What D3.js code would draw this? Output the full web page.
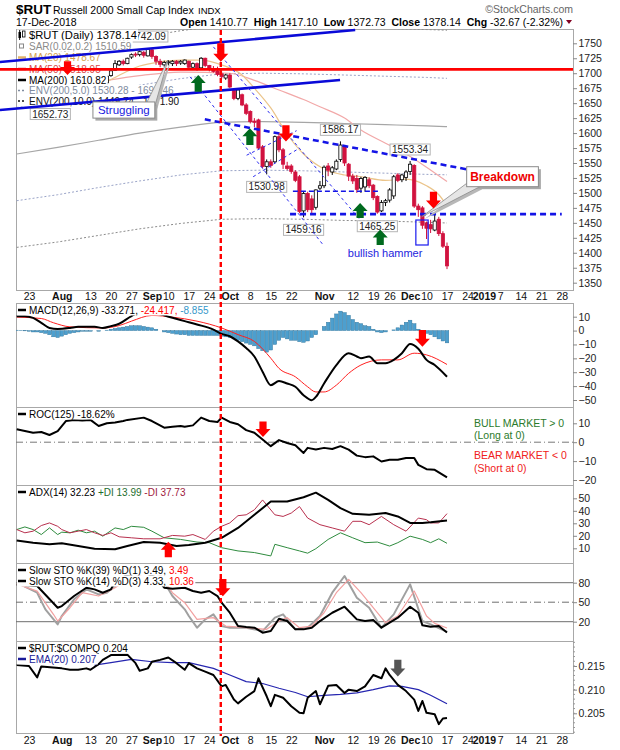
<!DOCTYPE html>
<html>
<head>
<meta charset="utf-8">
<script src="https://cdn.jsdelivr.net/npm/d3@7"></script>
<style>
  body { margin: 0; background: #fff; }
  svg { display: block; }
  text { font-family: "Liberation Sans", Arial, sans-serif; }
</style>
</head>
<body>
<svg id="chart" width="620" height="750"></svg>
<script>
// ---------- data ----------
const holidays = ["2018-09-03", "2018-11-22", "2018-12-05", "2018-12-25", "2019-01-01"];
const firstDay = "2018-07-18";
const lastDay = "2019-02-02";

const tickDates = ["2018-07-23","2018-08-02","2018-08-13","2018-08-20","2018-08-27","2018-09-04","2018-09-10","2018-09-17","2018-09-24","2018-10-01","2018-10-08","2018-10-15","2018-10-22","2018-11-01","2018-11-12","2018-11-19","2018-11-26","2018-12-03","2018-12-10","2018-12-17","2018-12-24","2018-12-31","2019-01-07","2019-01-14","2019-01-21","2019-01-28"];
const tickLabels = ["23","Aug","13","20","27","Sep","10","17","24","Oct","8","15","22","Nov","12","19","26","Dec","10","17","24","2019","7","14","21","28"];

// candles from 2018-08-17 to 2018-12-17
const candleFirstDate = "2018-08-17";
const candleOpen = [1684,1696,1705,1714,1720,1716,1727,1732,1731,1735,1729,
  1739,1728,1720,1714,1718,1716,1720,1717,1716,
  1720,1710,1716,1709,1725,1713,1708,1704,1699,1692,
  1697,1672,1658,1664,1647,1636,1620,1622,1577,1544,
  1552,1552,1594,1572,1545,1545,1535,1527,1470,1499,
  1490,1476,1508,1512,1545,1535,1540,1556,1578,1548,
  1528,1524,1508,1510,1522,1513,1494,1470,1484,1488,
  1495,1530,1522,1526,1536,1546,1478,1475,1450,1447,
  1438,1456,1432,1410.77];
const candleHigh = [1696,1705,1722,1722,1723,1726,1733,1735,1738,1737,1742.09,
  1741,1730,1724,1721,1722,1722,1722,1722,1723,
  1721,1718,1718,1727,1726,1714,1712,1711,1703,1699,
  1700,1674,1675,1666,1650,1638,1625,1624,1580,1556,
  1556,1596,1598,1575,1552,1548,1538,1530,1503,1502,
  1496,1506,1520,1546,1550,1545,1556,1586.17,1580,1550,
  1532,1530,1527,1528,1526,1515,1496,1488,1490,1508,
  1530,1533,1532,1538,1553.34,1548,1482,1478,1452,1455,
  1466,1460,1436,1417.10];
const candleLow = [1681,1694,1704,1712,1713,1715,1724,1727,1728,1726,1728,
  1724,1714,1710,1711,1713,1712,1712,1714,1714,
  1708,1709,1704,1708,1710,1703,1701,1695,1690,1689,
  1675,1655,1655,1645,1630,1616,1610,1573,1541,1530.98,
  1542,1550,1568,1540,1538,1532,1518,1466,1459.16,1468,
  1465,1472,1505,1508,1528,1530,1538,1552,1545,1520,
  1515,1500,1500,1502,1508,1488,1465.25,1468,1478,1484,
  1490,1518,1518,1520,1530,1475,1460,1440,1423,1433,
  1436,1428,1408,1372.73];
const candleClose = [1695,1704,1716,1720,1716,1725,1731,1731,1736,1730,1740,
  1728,1720,1715,1718,1719,1720,1716,1720,1722,
  1710,1716,1707,1725,1713,1706,1703,1698,1694,1697,
  1677,1658,1672,1647,1633,1619,1618,1575,1544,1552,
  1546,1594,1572,1548,1541,1536,1521,1469,1499,1472,
  1472,1505,1512,1543,1538,1542,1553,1580,1550,1528,
  1520,1506,1524,1526,1512,1492,1468,1484,1487,1505,
  1527,1521,1530,1535,1548,1478,1472,1446,1441,1440,
  1453,1432,1411,1378.14];

// overlays, as [trading-day number, value]
const ma20 = [[22,1686],[26,1700],[30,1712],[35,1719],[40,1722],[45,1722],[50,1714],[55,1697],[58,1675],[62,1642],[66,1598],[70,1565],[75,1540],[80,1530],[84,1527],[90,1521],[95,1523],[100,1512],[103,1497],[105,1478.67]];
const ma50 = [[22,1688],[30,1696],[40,1702],[52,1700],[58,1688],[64,1672],[70,1656],[74,1644],[80,1625],[84,1605],[90,1583],[95,1565],[100,1543],[105,1518.95]];
const ma200 = [[0,1565],[10,1576],[20,1588],[30,1600],[40,1610],[50,1618],[60,1619],[70,1618],[80,1616],[90,1614],[100,1612],[105,1610.82]];
const env5Upper = [[0,1643],[10,1655],[20,1667],[30,1680],[40,1691],[50,1699],[60,1700],[70,1699],[80,1697],[90,1695],[100,1693],[105,1691.46]];
const env5Lower = [[0,1487],[10,1497],[20,1509],[30,1520],[40,1530],[50,1537],[60,1538],[70,1537],[80,1535],[90,1533],[100,1531],[105,1530.28]];
const env10Upper = [[0,1722],[10,1734],[20,1747],[30,1760],[40,1771],[50,1780],[60,1781],[70,1780],[80,1778],[90,1775],[100,1773],[105,1771.90]];
const env10Lower = [[0,1409],[10,1418],[20,1429],[30,1440],[40,1449],[50,1456],[60,1457],[70,1456],[80,1454],[90,1453],[100,1451],[105,1449.74]];

// MACD(12,26,9)
const macdLine = [[0,10.4],[2,10.4],[4,9.2],[6,5.6],[8,1.9],[10,1.2],[13,1.9],[15,2.7],[19,2.7],[21,1.9],[23,3.2],[25,4.9],[28,10.4],[31,14],[35,11.7],[38,9.2],[41,6.8],[44,4.4],[48,0.7],[50,-2.4],[52,-4.1],[54,-7.8],[56,-12.6],[58,-18.7],[60,-29.6],[62,-39.3],[64,-36.4],[66,-38.1],[68,-40.5],[70,-46.6],[72,-50.2],[73,-47.8],[75,-38.1],[78,-24.8],[81,-16.3],[83,-18.7],[84,-19.9],[86,-18.7],[88,-23.5],[90,-23.5],[92,-21.1],[94,-16.3],[96,-9.7],[98,-13.1],[100,-21.1],[102,-24.8],[105,-33.271]];
const macdSignal = [[0,9.7],[6,8.7],[9,5.6],[13,2.7],[21,1.9],[25,3.6],[28,6.8],[33,10.9],[38,9.7],[44,6.8],[50,1.9],[54,-2.9],[58,-7.8],[62,-19.9],[64,-27.2],[68,-33.3],[71,-40.5],[73,-44.2],[75,-44.2],[78,-39.3],[81,-30.8],[84,-24.8],[89,-21.1],[93,-21.1],[97,-16.3],[100,-17.5],[105,-24.417]];
const macdHist = [0.3,0.2,-0.2,-0.5, -1,-1,-1.5,-2,
  -3,-4.5,-5,-4,-3, -2,-1.5,-1,-0.5,-0.5, -0.5,0,-0.5,0,0.3, 1,1.5,2,2.5,3,
  3.5,3.5,3.5,3,2.5, 2,1,0,-1,-1.5, -2,-2.5,-3,-3,-3.5, -3.5,-3.5,-3.5,-3.5,-3.5,
  -3.5,-3.5,-4,-4.5,-5, -6,-7,-8,-9,-10, -11,-13,-14.5,-15.5,-14, -10,-7,-5,-6,-7,
  -7,-8,-8.5,-7.5,-5, -3,0,3,6,9, 12,14,13,11,8, 6,5,3.5,3,1,
  -1,-1.5,-1,0,0.5, 2,4,6,7.5,5, 1,-1.5,-2,-3,-4.5, -6,-7.5,-8.855];

// ROC(125)
const roc = [[0,6.8],[2,5.9],[4,5],[6,5.4],[8,3.8],[10,5.9],[12,11.2],[14,11.8],[16,11.5],[18,11.8],[20,8.6],[22,10],[24,10.4],[26,11.2],[27,11.8],[31,13],[33,11.2],[36,7.7],[38,8.2],[40,8.6],[41,8.2],[43,8.9],[45,13],[47,11.2],[49,10.7],[50,13],[52,10.7],[54,9.5],[56,6.4],[58,5],[60,1.4],[62,-2.1],[64,1.1],[66,-0.4],[68,-1.6],[70,-5.7],[71,-3],[73,-3.9],[75,-3],[77,-3.6],[79,-2.1],[81,-3.9],[83,-7.1],[85,-7.9],[87,-7.5],[89,-10.2],[91,-9.3],[93,-9.3],[95,-8.4],[97,-8.4],[98,-12],[100,-14.3],[102,-14.6],[105,-18.62]];

// ADX(14)
const adx = [[0,16.3],[4,14.5],[8,13.2],[11,14],[15,11.8],[19,9.7],[24,9.2],[27,11.8],[31,15],[35,14.5],[39,11.8],[42,12.6],[46,14.5],[50,18.4],[54,26.3],[58,36.8],[62,47.4],[66,47.4],[70,50.8],[73,54.5],[76,48.7],[79,42.1],[82,37.6],[86,36.8],[90,38.2],[93,35.5],[96,30.3],[99,30.3],[101,30.8],[105,32.23]];
const plusDI = [[0,25],[2,27.1],[4,25],[6,21],[8,26.3],[10,21],[11,22.9],[13,22.4],[15,24.5],[17,22.4],[19,23.7],[21,19.7],[24,26.3],[26,25],[28,27.6],[31,26.8],[33,23.7],[36,18.4],[40,17.1],[44,15],[47,14.5],[50,10.5],[54,7.9],[58,6.6],[62,3.9],[63,13.2],[66,10.5],[69,7.9],[71,6.1],[73,9.7],[76,17.1],[79,22.4],[82,18.4],[85,14.5],[88,15],[91,11.8],[93,14.5],[96,19.7],[99,17.1],[101,14.5],[103,17.6],[105,13.99]];
const minusDI = [[0,25],[2,22.4],[4,23.7],[6,28.2],[8,30.3],[10,27.6],[11,25],[13,22.4],[15,23.7],[17,25],[19,22.4],[21,20.3],[23,22.4],[25,19.2],[28,18.4],[31,17.6],[35,17.6],[38,20.3],[41,19.7],[43,21],[46,17.1],[48,23.7],[50,27.6],[52,30.3],[54,36.1],[56,36.8],[58,40.8],[60,48.7],[63,36.8],[65,35.5],[67,38.2],[69,43.4],[71,34.2],[74,28.9],[77,26.3],[80,23.7],[82,31.6],[84,31.6],[86,28.9],[89,35.5],[92,28.9],[95,23.7],[98,34.2],[100,32.9],[101,30.3],[103,30.3],[105,37.73]];

// Slow stochastics
const sto39 = [[0,77.4],[5,74.9],[10,41.5],[11,44],[14,59.5],[17,72.3],[19,69.7],[21,64.6],[23,69.7],[24,82],[27,92],[31,96],[34,88],[36,72.3],[38,70.8],[41,72.3],[43,67.2],[45,64.6],[47,67.2],[49,59.5],[50,49.2],[52,33.8],[54,13.3],[56,11.8],[58,10.8],[60,3.1],[62,5.6],[64,24.6],[66,21],[68,8.2],[70,8.2],[72,10.8],[74,21],[77,33.8],[80,43.1],[83,23.6],[85,21],[87,22.6],[89,10.8],[91,18.5],[93,26.2],[96,43.1],[98,33.8],[99,14.4],[101,12.3],[103,13.3],[105,3.49]];
const sto14K = [[0,80],[5,64.6],[7,39],[10,15.9],[11,28.7],[14,54.4],[17,69.7],[20,62],[22,64.6],[24,74.9],[28,95],[32,98],[35,92],[38,59.5],[41,39],[42,28.7],[44,10.8],[46,23.6],[48,31.3],[50,13.3],[52,10.8],[56,10.8],[60,5.6],[63,26.2],[65,31.3],[68,8.2],[71,10.8],[74,28.7],[77,64.6],[80,90.3],[83,56.9],[86,41.5],[89,10.8],[92,31.3],[96,77.4],[99,21],[101,15.9],[105,4.33]];
const sto14D = [[0,78],[5,67],[9,31],[10,21],[13,41.5],[16,64.6],[20,59.5],[24,72.3],[28,88],[32,95],[35,92],[38,64.6],[41,49.2],[44,23.6],[48,26.2],[51,13.3],[56,10.8],[61,8.2],[64,21],[66,26.2],[69,10.8],[72,13.3],[75,33.8],[78,64.6],[81,85.1],[84,64.6],[87,41.5],[90,18.5],[93,28.7],[97,67.2],[100,28.7],[102,17.4],[105,10.36]];

// $RUT:$COMPQ ratio
const ratio = [[0,0.2152],[3,0.2150],[5,0.2126],[6,0.2149],[11,0.2145],[13,0.2142],[15,0.2142],[17,0.2145],[18,0.2142],[20,0.2154],[21,0.2163],[23,0.2173],[27,0.2174],[29,0.2156],[30,0.2140],[32,0.2145],[33,0.2159],[35,0.2163],[37,0.2168],[39,0.2156],[41,0.2142],[42,0.2156],[44,0.2145],[46,0.2138],[48,0.2131],[50,0.2107],[51,0.2110],[53,0.2079],[54,0.2071],[56,0.2085],[58,0.2097],[59,0.2124],[61,0.2086],[62,0.2065],[63,0.2089],[65,0.2083],[67,0.2065],[69,0.2051],[70,0.2050],[71,0.2083],[73,0.2097],[74,0.2069],[76,0.2108],[78,0.2110],[80,0.2093],[81,0.2100],[83,0.2097],[85,0.2107],[87,0.2131],[89,0.2124],[90,0.2145],[91,0.2131],[93,0.2110],[95,0.2097],[97,0.2079],[98,0.2055],[99,0.2076],[100,0.2051],[102,0.2048],[103,0.2027],[104,0.2039],[105,0.2040]];
const ratioEma = [[19,0.2152],[23,0.2157],[28,0.2164],[33,0.2159],[38,0.2157],[42,0.2157],[48,0.2145],[52,0.2131],[56,0.2117],[60,0.2113],[64,0.2103],[68,0.2094],[71,0.2085],[75,0.2088],[79,0.2090],[83,0.2093],[87,0.2100],[91,0.2108],[94,0.2107],[98,0.2100],[101,0.2088],[105,0.2070]];

// annotations drawn on the chart, in [day number, value]
const blueTrendLines = [[[-4.08,1718.8],[82.6,1772.2]], [[-4.08,1638.6],[78.9,1688.7]]];
const redLevel = 1706.5;
const channelLines = [[[42.3,1694],[74.8,1413]], [[48,1744],[83.8,1455]], [[56.1,1563],[68.3,1604]], [[57.7,1527],[68.3,1572]]];
const thickDashed = [[[45.9,1623],[109.8,1539.5]], [[66.7,1464.5],[133,1464.5]]];
const thinDashed = [[[67.4,1503],[88.7,1503]]];
const markerDay = 49.8;
const priceArrows = [
  {i:12.4, tail:1720, tip:1697, color:"#ff0000"},
  {i:49.8, tail:1750, tip:1719, color:"#ff0000"},
  {i:65.7, tail:1613, tip:1586, color:"#ff0000"},
  {i:101.7, tail:1502, tip:1474, color:"#ff0000"},
  {i:44.3, tail:1669, tip:1697, color:"#006a1e"},
  {i:56.9, tail:1580, tip:1608, color:"#006a1e"},
  {i:83.8, tail:1458, tip:1483, color:"#006a1e"},
  {i:88.7, tail:1413, tip:1439, color:"#006a1e"}
];
const priceLabels = [
  {text:"1742.09", i:32, p:1742.09, side:"above"},
  {text:"1652.73", i:8.2, p:1652.73, side:"below"},
  {text:"1530.98", i:61, p:1530.98, side:"below"},
  {text:"1459.16", i:70, p:1459.16, side:"below"},
  {text:"1586.17", i:79, p:1586.17, side:"above"},
  {text:"1553.34", i:96, p:1553.34, side:"above"},
  {text:"1465.25", i:88, p:1465.25, side:"below"}
];

// ---------- layout ----------
const svg = d3.select("#chart");
const L = 16, R = 573;
const parse = d3.timeParse("%Y-%m-%d"), fmt = d3.timeFormat("%Y-%m-%d");
const days = d3.timeDay.range(parse(firstDay), parse(lastDay))
  .filter(d => d.getDay() !== 0 && d.getDay() !== 6 && !holidays.includes(fmt(d)));
const dayIdx = s => days.findIndex(d => fmt(d) === s);

const x = d3.scaleLinear().domain([0, 105]).range([16.7, 447]);

const panels = {
  price: {top: 29, bottom: 290, y: d3.scaleLinear().domain([1350, 1750]).range([282.7, 43.3]), ticks: d3.range(1350, 1751, 25)},
  macd:  {top: 303, bottom: 407, y: d3.scaleLinear().domain([-50, 10]).range([400, 316.7]), ticks: [-50,-40,-30,-20,-10,0,10]},
  roc:   {top: 407, bottom: 485, y: d3.scaleLinear().domain([-20, 10]).range([480, 423.3]), ticks: [-20,-10,0,10]},
  adx:   {top: 485, bottom: 563, y: d3.scaleLinear().domain([10, 50]).range([548.3, 498.3]), ticks: [10,20,30,40,50]},
  sto:   {top: 563, bottom: 641, y: d3.scaleLinear().domain([20, 80]).range([621.7, 582.7]), ticks: [20,50,80]},
  ratio: {top: 641, bottom: 733, y: d3.scaleLinear().domain([0.205, 0.215]).range([713.3, 666]), ticks: [0.205,0.21,0.215]}
};

const defs = svg.append("defs");
Object.entries(panels).forEach(([k, p]) => {
  defs.append("clipPath").attr("id", "clip-" + k)
    .append("rect").attr("x", L).attr("y", p.top).attr("width", R - L).attr("height", p.bottom - p.top);
});

// header
const head = svg.append("g");
head.append("text").attr("x", 16).attr("y", 14).attr("font-size", 13.5).attr("font-weight", "bold").text("$RUT");
head.append("text").attr("x", 53).attr("y", 14).attr("font-size", 10.5).text("Russell 2000 Small Cap Index");
head.append("text").attr("x", 198).attr("y", 14).attr("font-size", 9.5).text("INDX");
head.append("text").attr("x", 16).attr("y", 26).attr("font-size", 10.5).text("17-Dec-2018");
head.append("text").attr("x", 573).attr("y", 13).attr("font-size", 10.5).attr("fill", "#666")
  .attr("text-anchor", "end").text("\u00A9StockCharts.com");
const quote = head.append("text").attr("x", 563).attr("y", 26).attr("font-size", 10.5).attr("text-anchor", "end");
[["Open ", true], ["1410.77  ", false], ["High ", true], ["1417.10  ", false], ["Low ", true], ["1372.73  ", false],
 ["Close ", true], ["1378.14  ", false], ["Chg ", true], ["-32.67 (-2.32%)", false]]
  .forEach(([t, b]) => quote.append("tspan").attr("font-weight", b ? "bold" : "normal").attr("xml:space", "preserve").text(t));
head.append("path").attr("d", "M566,20 L572,20 L569,24 Z").attr("fill", "#800020");

// panel frames
Object.values(panels).forEach(p => {
  svg.append("rect").attr("x", L + 0.5).attr("y", p.top + 0.5).attr("width", R - L).attr("height", p.bottom - p.top)
    .attr("fill", "none").attr("stroke", "#a8a8a8");
});

const line = (y, curve) => d3.line().x(d => x(d[0])).y(d => y(d[1])).curve(curve || d3.curveLinear);
function drawLine(panel, data, color, width, opts = {}) {
  const p = panels[panel];
  return svg.append("path").attr("clip-path", `url(#clip-${panel})`)
    .attr("d", line(p.y, opts.curve)(data)).attr("fill", "none")
    .attr("stroke", color).attr("stroke-width", width)
    .attr("stroke-dasharray", opts.dash || null).attr("stroke-linejoin", "round");
}

// ---------- price panel ----------
const P = panels.price;
drawLine("price", env10Upper, "#8c8c8c", 1, {dash: "2,2"});
drawLine("price", env10Lower, "#8c8c8c", 1, {dash: "2,2"});
drawLine("price", env5Upper, "#9aa4c8", 1, {dash: "2,2"});
drawLine("price", env5Lower, "#9aa4c8", 1, {dash: "2,2"});
drawLine("price", ma200, "#a6a6a6", 1.2, {curve: d3.curveMonotoneX});
drawLine("price", ma50, "#f2a8a8", 1.2, {curve: d3.curveMonotoneX});
drawLine("price", ma20, "#ebc48a", 1.2, {curve: d3.curveMonotoneX});

const i0 = dayIdx(candleFirstDate);
const candles = candleOpen.map((o, k) => ({i: i0 + k, o, h: candleHigh[k], l: candleLow[k], c: candleClose[k]}));
const cg = svg.append("g").attr("clip-path", "url(#clip-price)");
const candleRed = "#d1123f";
cg.selectAll("line.wick").data(candles).join("line")
  .attr("x1", d => x(d.i)).attr("x2", d => x(d.i))
  .attr("y1", d => P.y(d.h)).attr("y2", d => P.y(d.l))
  .attr("stroke", d => d.c >= d.o ? "#000" : candleRed).attr("stroke-width", 1);
cg.selectAll("rect.body").data(candles).join("rect")
  .attr("x", d => x(d.i) - 1.6).attr("width", 3.2)
  .attr("y", d => P.y(Math.max(d.o, d.c)))
  .attr("height", d => Math.max(1, Math.abs(P.y(d.o) - P.y(d.c))))
  .attr("fill", d => d.c >= d.o ? "#fff" : candleRed)
  .attr("stroke", d => d.c >= d.o ? "#000" : candleRed).attr("stroke-width", 0.8);

// value boxes for highs and lows
priceLabels.forEach(lb => {
  const cx = x(lb.i), yv = P.y(lb.p);
  const g = svg.append("g");
  const t = g.append("text").attr("x", cx).attr("font-size", 10).attr("fill", "#222")
    .attr("text-anchor", "middle").text(lb.text);
  const w = t.node().getComputedTextLength() + 4, h = 11;
  const top = lb.side === "below" ? yv + 7 : yv - 6 - h;
  t.attr("y", top + 9);
  g.insert("rect", "text").attr("x", cx - w / 2).attr("y", top).attr("width", w).attr("height", h)
    .attr("fill", "#fff").attr("stroke", "#b5b5b5").attr("stroke-width", 1);
});

// ---------- MACD ----------
const M = panels.macd;
svg.append("g").attr("clip-path", "url(#clip-macd)").selectAll("rect").data(macdHist).join("rect")
  .attr("x", (d, i) => x(i) - 1.8).attr("width", 3.6)
  .attr("y", d => Math.min(M.y(d), M.y(0)))
  .attr("height", d => Math.abs(M.y(d) - M.y(0)))
  .attr("fill", "#4d9fce").attr("stroke", "#2c6f96").attr("stroke-width", 0.4);
drawLine("macd", macdSignal, "#ff2020", 1, {curve: d3.curveMonotoneX});
drawLine("macd", macdLine, "#000", 2, {curve: d3.curveMonotoneX});

// ---------- ROC ----------
const RC = panels.roc;
svg.append("line").attr("x1", L).attr("x2", R).attr("y1", RC.y(0)).attr("y2", RC.y(0))
  .attr("stroke", "#777").attr("stroke-dasharray", "7,3,1,3");
drawLine("roc", roc, "#000", 2);
const bull = [["BULL MARKET > 0", 426.5, "#2b7a2b"], ["(Long at 0)", 439, "#2b7a2b"], ["BEAR MARKET < 0", 459, "#f02020"], ["(Short at 0)", 472, "#f02020"]];
bull.forEach(([t, y, c]) => svg.append("text").attr("x", 474).attr("y", y).attr("font-size", 10.5).attr("fill", c).text(t));

// ---------- ADX ----------
drawLine("adx", plusDI, "#2e8b3e", 1);
drawLine("adx", minusDI, "#b8304e", 1);
drawLine("adx", adx, "#000", 2);

// ---------- Stochastics ----------
const S = panels.sto;
[[80, null], [20, null], [50, "7,3,1,3"]].forEach(([v, dash]) => {
  svg.append("line").attr("x1", L).attr("x2", R).attr("y1", S.y(v)).attr("y2", S.y(v))
    .attr("stroke", "#6e6e6e").attr("stroke-width", 1).attr("stroke-dasharray", dash);
});
drawLine("sto", sto14K, "#a0a0a0", 2);
drawLine("sto", sto14D, "#f2a0a0", 1.2);
drawLine("sto", sto39, "#000", 2);

// ---------- ratio ----------
drawLine("ratio", ratioEma, "#2626b0", 1.2);
drawLine("ratio", ratio, "#000", 2);

// ---------- legends ----------
function legend(yc, parts, icon, size) {
  const g = svg.append("g");
  const t = g.append("text").attr("x", 29).attr("y", yc + 3.6)
    .attr("font-family", "DejaVu Sans").attr("font-size", size || 10);
  parts.forEach(p => t.append("tspan").attr("fill", p[1]).attr("xml:space", "preserve").text(p[0]));
  const bb = t.node().getBBox();
  g.insert("rect", "text").attr("x", L + 1).attr("y", yc - 5.5).attr("width", bb.x + bb.width - L).attr("height", 11).attr("fill", "#fff");
  if (icon === "candle") {
    g.append("rect").attr("x", 18.5).attr("y", yc - 3).attr("width", 2.5).attr("height", 6).attr("fill", "#000");
    g.append("rect").attr("x", 22.5).attr("y", yc - 4).attr("width", 2.5).attr("height", 6).attr("fill", "#fff").attr("stroke", "#000").attr("stroke-width", 0.8);
    g.append("line").attr("x1", 19.7).attr("x2", 19.7).attr("y1", yc - 5).attr("y2", yc + 5).attr("stroke", "#000");
  } else if (icon === "square") {
    g.append("rect").attr("x", 19.5).attr("y", yc - 2).attr("width", 4).attr("height", 4).attr("fill", "none").attr("stroke", "#888");
  } else {
    g.append("line").attr("x1", 18).attr("x2", 26).attr("y1", yc).attr("y2", yc)
      .attr("stroke", icon.color).attr("stroke-width", icon.dash ? 1.5 : 2.5).attr("stroke-dasharray", icon.dash || null);
  }
}
legend(35, [["$RUT (Daily) 1378.14", "#000"]], "candle", 11.2);
legend(46, [["SAR(0.02,0.2) 1510.59", "#8a8a8a"]], "square");
legend(57.5, [["MA(20) 1478.67", "#d6a24e"]], {color: "#e2b36c"});
legend(69, [["MA(50) 1518.95", "#d84848"]], {color: "#e04848"});
legend(80, [["MA(200) 1610.82", "#000"]], {color: "#000"});
legend(90.5, [["ENV(200,5.0) 1530.28 - 1691.46", "#7f8ca0"]], {color: "#7f8ca0", dash: "2,2"});
legend(101, [["ENV(200,10.0) 1449.74 - 1771.90", "#111"]], {color: "#111", dash: "2,2"});
legend(310, [["MACD(12,26,9) -33.271, ", "#000"], ["-24.417, ", "#ff0000"], ["-8.855", "#3597c9"]], {color: "#000"});
legend(414, [["ROC(125) -18.62%", "#000"]], {color: "#000"});
legend(492, [["ADX(14) 32.23 ", "#000"], ["+DI 13.99 ", "#1e6e2e"], ["-DI 37.73", "#a0203e"]], {color: "#000"});
legend(570, [["Slow STO %K(39) %D(1) 3.49, ", "#000"], ["3.49", "#ff0000"]], {color: "#000"});
legend(581, [["Slow STO %K(14) %D(3) 4.33, ", "#000"], ["10.36", "#ff0000"]], {color: "#000"});
legend(648, [["$RUT:$COMPQ 0.204", "#000"]], {color: "#000"});
legend(659, [["EMA(20) 0.207", "#1a1a99"]], {color: "#1a1a99"});

// ---------- annotations ----------
const Y = P.y;
const seg = (pts, y) => d3.line().x(d => x(d[0])).y(d => y(d[1]))(pts);
blueTrendLines.forEach(l => svg.append("path").attr("d", seg(l, Y)).attr("stroke", "#0a0ad8").attr("stroke-width", 2.6).attr("fill", "none"));
svg.append("line").attr("x1", x(-4.08)).attr("x2", R).attr("y1", Y(redLevel)).attr("y2", Y(redLevel))
  .attr("stroke", "#ff0000").attr("stroke-width", 2.6);
channelLines.forEach(l => svg.append("path").attr("d", seg(l, Y)).attr("stroke", "#2d2df0").attr("stroke-width", 1)
  .attr("stroke-dasharray", "3,3").attr("fill", "none"));
thickDashed.forEach(l => svg.append("path").attr("d", seg(l, Y)).attr("stroke", "#1414e6").attr("stroke-width", 2.6)
  .attr("stroke-dasharray", "6,4").attr("fill", "none"));
thinDashed.forEach(l => svg.append("path").attr("d", seg(l, Y)).attr("stroke", "#1414e6").attr("stroke-width", 1.5)
  .attr("stroke-dasharray", "5,3").attr("fill", "none"));

// hammer box and caption
svg.append("rect").attr("x", x(97.4)).attr("y", Y(1454.7)).attr("width", x(100.4) - x(97.4)).attr("height", Y(1413) - Y(1454.7))
  .attr("fill", "none").attr("stroke", "#1a1aee").attr("stroke-width", 1.2);
svg.append("text").attr("x", x(89.9)).attr("y", Y(1393.4)).attr("text-anchor", "middle").attr("font-size", 11)
  .attr("fill", "#2424dd").text("bullish hammer");

// callouts
function callout(box, tip, base, label, style) {
  const bx0 = x(box[0]), bx1 = x(box[1]), by0 = Y(box[2]), by1 = Y(box[3]);
  const wedge = [[x(base[0][0]), Y(base[0][1])], [x(tip[0]), Y(tip[1])], [x(base[1][0]), Y(base[1][1])]];
  svg.append("polygon").attr("points", wedge.map(p => [p[0] + 2.5, p[1] + 2.5].join(",")).join(" ")).attr("fill", "#b8b8b8");
  svg.append("rect").attr("x", bx0 + 2.5).attr("y", by0 + 2.5).attr("width", bx1 - bx0).attr("height", by1 - by0).attr("fill", "#a8a8a8");
  svg.append("polygon").attr("points", wedge.map(p => p.join(",")).join(" ")).attr("fill", "#e6e6e6").attr("stroke", "#8a8a8a").attr("stroke-width", 0.8);
  svg.append("rect").attr("x", bx0).attr("y", by0).attr("width", bx1 - bx0).attr("height", by1 - by0)
    .attr("fill", "#fff").attr("stroke", "#8a8a8a").attr("stroke-width", 1);
  svg.append("text").attr("x", (bx0 + bx1) / 2).attr("y", (by0 + by1) / 2 + 4).attr("text-anchor", "middle")
    .attr("font-size", style.size).attr("font-weight", style.weight).attr("fill", style.color).text(label);
}
callout([18.6, 33.7, 1652, 1625], [36.9, 1722], [[31.8, 1652], [33.7, 1645]], "Struggling", {size: 11.5, weight: "normal", color: "#2020e0"});
callout([109.8, 127.3, 1543.8, 1510.4], [98.8, 1460], [[110, 1517], [113, 1510.4]], "Breakdown", {size: 12, weight: "bold", color: "#ee0000"});

// block arrows
function arrow(cx, yTail, yTip, color) {
  const s = Math.sign(yTip - yTail), neck = yTip - s * 8, hw = 7.5, sw = 3.6;
  svg.append("path")
    .attr("d", `M${cx - sw},${yTail} L${cx + sw},${yTail} L${cx + sw},${neck} L${cx + hw},${neck} L${cx},${yTip} L${cx - hw},${neck} L${cx - sw},${neck} Z`)
    .attr("fill", color);
}
priceArrows.forEach(a => arrow(x(a.i), Y(a.tail), Y(a.tip), a.color));
arrow(x(99), panels.macd.y(0.4), panels.macd.y(-11.6), "#ff0000");
arrow(x(60.1), panels.roc.y(11), panels.roc.y(2.8), "#ff0000");
arrow(x(37), panels.adx.y(2.8), panels.adx.y(15.3), "#ff0000");
arrow(x(50.3), panels.sto.y(85.6), panels.sto.y(59), "#ff0000");
arrow(x(93), panels.ratio.y(0.2163), panels.ratio.y(0.2128), "#555");

// red vertical marker through all panels
svg.append("line").attr("x1", x(markerDay)).attr("x2", x(markerDay)).attr("y1", 30).attr("y2", 736)
  .attr("stroke", "#ff0000").attr("stroke-width", 2.4).attr("stroke-dasharray", "5,3");

// ---------- axes ----------
Object.entries(panels).forEach(([k, p]) => {
  const ax = d3.axisRight(p.y).tickValues(p.ticks).tickSize(4).tickPadding(1.5)
    .tickFormat(k === "ratio" ? d3.format(".3f") : d3.format("d"));
  const g = svg.append("g").attr("transform", `translate(${R},0)`).call(ax);
  g.select(".domain").remove();
  g.selectAll("line").attr("stroke", "#888");
  g.selectAll("text").attr("font-family", "Liberation Sans").attr("font-size", 10.5).attr("fill", "#222");
});
// minor ticks on ratio axis
svg.append("g").selectAll("line").data(d3.range(0.201, 0.2201, 0.001)).join("line")
  .attr("x1", R).attr("x2", R + 2).attr("y1", d => panels.ratio.y(d)).attr("y2", d => panels.ratio.y(d)).attr("stroke", "#999");

const tickIdx = tickDates.map(dayIdx);
[[290, 2.5], [733, 4]].forEach(([yy, pad]) => {
  const ax = d3.axisBottom(x).tickValues(tickIdx).tickSize(0).tickPadding(pad).tickFormat((d, i) => tickLabels[i]);
  const g = svg.append("g").attr("transform", `translate(0,${yy})`).call(ax);
  g.select(".domain").remove();
  g.selectAll("text").attr("font-family", "Liberation Sans").attr("font-size", 10.5).attr("fill", "#111")
    .attr("font-weight", (d, i) => /^\d{1,2}$/.test(tickLabels[i]) ? "normal" : "bold");
});
</script>
</body>
</html>
